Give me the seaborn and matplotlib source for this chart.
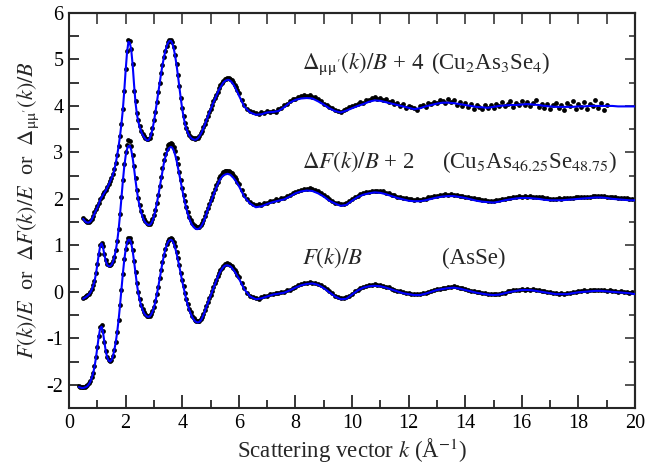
import numpy as np
import pandas as pd
import seaborn as sns
import matplotlib
matplotlib.use("Agg")
import matplotlib.pyplot as plt
from matplotlib.ticker import MultipleLocator

# ---------------------------------------------------------------------------
# Sampling of the scattering vector k (Å^-1)
# low-k part: 0.05 steps up to k = 6; high-k part: measured points every 0.1,
# fitted curves tabulated every 0.2
# ---------------------------------------------------------------------------
LO_STEP = 0.05
DOT_HI_START, DOT_HI_STEP = 6.1, 0.1
FIT_HI_START, FIT_HI_STEP = 6.2, 0.2

# ---------------- F(k)/B  (AsSe) ----------------
asse_k0 = 0.35
asse_fit_lo = [
    -2.05, -2.06, -2.07, -2.07, -2.06, -2.05, -2.03, -1.99, -1.94, -1.86, -1.76, -1.62, -1.43,
    -1.2, -0.97, -0.79, -0.75, -0.86, -1.08, -1.28, -1.41, -1.48, -1.5, -1.47, -1.39, -1.26, -1.09, -0.88, -0.62, -0.31, 0.03, 0.37, 0.67,
    0.9, 1.05, 1.12, 1.12, 1.04, 0.88, 0.65, 0.4, 0.16, -0.03, -0.18, -0.3, -0.39, -0.46, -0.5, -0.53, -0.54, -0.53, -0.49, -0.43,
    -0.34, -0.22, -0.07, 0.09, 0.27, 0.45, 0.62, 0.77, 0.9, 1.0, 1.07, 1.11, 1.12, 1.1, 1.04, 0.95, 0.83, 0.69, 0.54, 0.38,
    0.23, 0.09, -0.05, -0.18, -0.29, -0.39, -0.47, -0.54, -0.59, -0.63, -0.65, -0.66, -0.65, -0.62, -0.57, -0.5, -0.42, -0.33, -0.25, -0.17,
    -0.09, -0.01, 0.07, 0.15, 0.23, 0.31, 0.38, 0.44, 0.49, 0.53, 0.56, 0.57, 0.57, 0.56, 0.55, 0.52, 0.48, 0.44, 0.39, 0.34,
    0.29,
]
asse_fit_hi = [
    0.05, -0.1, -0.16, -0.14, -0.1,
    -0.06, -0.04, -0.02, 0.03, 0.09,
    0.14, 0.17, 0.18, 0.15, 0.08,
    -0.01, -0.1, -0.16, -0.15, -0.06,
    0.03, 0.09, 0.12, 0.13, 0.12,
    0.09, 0.05, 0.01, -0.03, -0.05,
    -0.07, -0.07, -0.04, 0.0, 0.04,
    0.06, 0.08, 0.09, 0.07, 0.04,
    0.01, -0.02, -0.04, -0.06, -0.07,
    -0.06, -0.03, 0.0, 0.02, 0.04,
    0.04, 0.03, 0.01, -0.01, -0.03,
    -0.05, -0.05, -0.05, -0.03, -0.01,
    0.0, 0.01, 0.02, 0.02, 0.01,
    0.0, -0.01, -0.02, -0.03, -0.05,
]
asse_exp_lo = [
    -2.03, -2.04, -2.05, -2.05, -2.04, -2.03, -2.01, -1.97, -1.92, -1.84, -1.74, -1.6, -1.41,
    -1.18, -0.95, -0.76, -0.71, -0.84, -1.07, -1.27, -1.4, -1.47, -1.49, -1.46, -1.38, -1.25, -1.08, -0.87, -0.61, -0.29, 0.05, 0.39, 0.7,
    0.93, 1.08, 1.15, 1.15, 1.07, 0.9, 0.67, 0.42, 0.18, -0.01, -0.16, -0.28, -0.37, -0.44, -0.48, -0.51, -0.52, -0.51, -0.47, -0.41,
    -0.32, -0.2, -0.05, 0.11, 0.29, 0.47, 0.64, 0.79, 0.92, 1.02, 1.09, 1.13, 1.15, 1.13, 1.07, 0.98, 0.86, 0.72, 0.57, 0.41,
    0.26, 0.12, -0.02, -0.15, -0.26, -0.36, -0.44, -0.51, -0.56, -0.6, -0.62, -0.63, -0.62, -0.59, -0.54, -0.47, -0.39, -0.3, -0.21, -0.14,
    -0.06, 0.02, 0.1, 0.18, 0.26, 0.34, 0.41, 0.47, 0.52, 0.56, 0.59, 0.6, 0.61, 0.6, 0.58, 0.55, 0.51, 0.47, 0.42, 0.37,
    0.32,
]
asse_exp_hi = [
    0.2, 0.08, -0.02, -0.08, -0.12, -0.13, -0.15, -0.12, -0.1, -0.08,
    -0.05, -0.05, -0.02, -0.03, 0.0, -0.01, 0.03, 0.05, 0.09, 0.11,
    0.14, 0.16, 0.19, 0.19, 0.21, 0.2, 0.2, 0.17, 0.14, 0.11,
    0.06, 0.02, -0.03, -0.08, -0.11, -0.14, -0.14, -0.12, -0.09, -0.04,
    0.01, 0.04, 0.08, 0.11, 0.12, 0.15, 0.14, 0.16, 0.15, 0.14,
    0.13, 0.1, 0.1, 0.06, 0.05, 0.02, 0.02, -0.01, -0.02, -0.02,
    -0.05, -0.04, -0.05, -0.05, -0.03, -0.03, 0.0, 0.02, 0.03, 0.06,
    0.06, 0.08, 0.09, 0.1, 0.11, 0.12, 0.1, 0.09, 0.08, 0.06,
    0.05, 0.02, 0.02, 0.0, -0.01, -0.03, -0.02, -0.05, -0.04, -0.05,
    -0.04, -0.05, -0.02, -0.02, 0.01, 0.01, 0.04, 0.04, 0.05, 0.06,
    0.05, 0.07, 0.05, 0.06, 0.03, 0.04, 0.01, 0.02, -0.01, 0.0,
    -0.03, -0.02, -0.04, -0.03, -0.04, -0.02, -0.03, 0.0, -0.01, 0.02,
    0.01, 0.03, 0.02, 0.04, 0.03, 0.05, 0.03, 0.04, 0.04, 0.02,
    0.03, 0.01, 0.02, 0.0, 0.01, -0.01, 0.0, -0.02, -0.01, -0.03,
]

# ---------------- ΔF(k)/B + 2  (Cu5As46.25Se48.75) ----------------
cu5_k0 = 0.5
cu5_fit_lo = [
    -0.15, -0.13, -0.11, -0.09, -0.06, -0.02, 0.04, 0.12, 0.22, 0.38,
    0.58, 0.8, 0.98, 1.04, 0.96, 0.8, 0.66, 0.58, 0.55, 0.55, 0.58, 0.64, 0.74, 0.88, 1.07, 1.32, 1.64, 2.0, 2.36, 2.68,
    2.92, 3.07, 3.14, 3.14, 3.05, 2.88, 2.65, 2.4, 2.17, 1.98, 1.83, 1.71, 1.61, 1.54, 1.49, 1.46, 1.44, 1.44, 1.47, 1.53,
    1.62, 1.74, 1.89, 2.05, 2.23, 2.42, 2.6, 2.76, 2.89, 2.99, 3.06, 3.1, 3.12, 3.1, 3.04, 2.95, 2.83, 2.68, 2.52, 2.36,
    2.2, 2.05, 1.91, 1.78, 1.67, 1.58, 1.5, 1.44, 1.4, 1.37, 1.35, 1.35, 1.36, 1.39, 1.44, 1.5, 1.58, 1.67, 1.76, 1.84,
    1.92, 2.0, 2.08, 2.16, 2.24, 2.31, 2.38, 2.43, 2.47, 2.5, 2.52, 2.53, 2.54, 2.53, 2.52, 2.49, 2.46, 2.42, 2.38, 2.33,
    2.28,
]
cu5_fit_hi = [
    2.04, 1.9, 1.82, 1.84, 1.89,
    1.93, 1.96, 1.99, 2.05, 2.12,
    2.16, 2.18, 2.17, 2.12, 2.05,
    1.96, 1.9, 1.85, 1.87, 1.96,
    2.04, 2.09, 2.12, 2.14, 2.13,
    2.1, 2.06, 2.02, 1.99, 1.96,
    1.95, 1.95, 1.97, 2.0, 2.03,
    2.05, 2.06, 2.06, 2.04, 2.02,
    1.99, 1.96, 1.94, 1.93, 1.92,
    1.94, 1.97, 1.99, 2.01, 2.02,
    2.02, 2.01, 2.0, 1.98, 1.97,
    1.97, 1.97, 1.98, 1.99, 2.0,
    2.01, 2.02, 2.03, 2.03, 2.02,
    2.0, 1.99, 1.98, 1.97, 1.97,
]
cu5_exp_lo = [
    -0.13, -0.12, -0.09, -0.07, -0.04, 0.0, 0.06, 0.14, 0.24, 0.4,
    0.6, 0.82, 1.0, 1.06, 0.98, 0.82, 0.68, 0.6, 0.57, 0.57, 0.6, 0.66, 0.76, 0.9, 1.1, 1.35, 1.67, 2.04, 2.41, 2.74,
    3.0, 3.17, 3.26, 3.25, 3.14, 2.95, 2.7, 2.44, 2.2, 2.01, 1.86, 1.74, 1.64, 1.57, 1.52, 1.49, 1.47, 1.47, 1.5, 1.56,
    1.65, 1.77, 1.92, 2.09, 2.28, 2.47, 2.66, 2.83, 2.97, 3.08, 3.15, 3.19, 3.21, 3.19, 3.12, 3.02, 2.89, 2.74, 2.57, 2.4,
    2.24, 2.09, 1.95, 1.82, 1.71, 1.62, 1.54, 1.48, 1.44, 1.41, 1.39, 1.39, 1.4, 1.43, 1.48, 1.55, 1.63, 1.72, 1.81, 1.89,
    1.97, 2.05, 2.13, 2.21, 2.29, 2.37, 2.44, 2.5, 2.54, 2.57, 2.59, 2.6, 2.61, 2.6, 2.58, 2.55, 2.51, 2.47, 2.42, 2.37,
    2.31,
]
cu5_exp_hi = [
    2.19, 2.08, 1.99, 1.93, 1.89, 1.86, 1.88, 1.87, 1.91, 1.92,
    1.95, 1.96, 1.99, 1.98, 2.02, 2.02, 2.06, 2.08, 2.13, 2.15,
    2.18, 2.19, 2.21, 2.21, 2.23, 2.21, 2.19, 2.16, 2.13, 2.08,
    2.04, 1.99, 1.96, 1.92, 1.91, 1.88, 1.89, 1.91, 1.96, 1.99,
    2.04, 2.07, 2.11, 2.12, 2.15, 2.15, 2.18, 2.17, 2.18, 2.16,
    2.16, 2.13, 2.12, 2.09, 2.08, 2.05, 2.05, 2.02, 2.01, 1.99,
    2.0, 1.98, 1.99, 1.98, 2.0, 2.0, 2.03, 2.03, 2.06, 2.06,
    2.08, 2.08, 2.1, 2.09, 2.11, 2.09, 2.09, 2.07, 2.07, 2.05,
    2.04, 2.02, 2.01, 1.99, 1.99, 1.97, 1.98, 1.96, 1.96, 1.95,
    1.97, 1.97, 1.99, 2.0, 2.02, 2.02, 2.04, 2.04, 2.06, 2.05,
    2.07, 2.05, 2.06, 2.04, 2.05, 2.03, 2.03, 2.01, 2.01, 2.0,
    2.0, 1.99, 2.01, 1.99, 2.01, 2.01, 2.02, 2.02, 2.03, 2.03,
    2.04, 2.04, 2.05, 2.05, 2.06, 2.06, 2.07, 2.06, 2.06, 2.05,
    2.05, 2.03, 2.03, 2.02, 2.02, 2.01, 2.01, 2.0, 2.0, 1.99,
]

# ---------------- Δμμ'(k)/B + 4  (Cu2As3Se4) ----------------
cu2_k0 = 0.5
cu2_fit_lo = [
    1.57, 1.53, 1.5, 1.49, 1.49, 1.51, 1.55, 1.61, 1.68, 1.75,
    1.81, 1.89, 1.97, 2.03, 2.08, 2.13, 2.18, 2.24, 2.3, 2.37, 2.44, 2.52, 2.62, 2.76, 2.93, 3.12, 3.34, 3.6, 3.9, 4.3,
    4.75, 5.15, 5.38, 5.36, 5.2, 4.88, 4.45, 4.07, 3.82, 3.66, 3.54, 3.45, 3.38, 3.33, 3.29, 3.26, 3.26, 3.3, 3.38, 3.5,
    3.66, 3.85, 4.06, 4.27, 4.48, 4.68, 4.87, 5.03, 5.17, 5.28, 5.36, 5.4, 5.4, 5.35, 5.24, 5.08, 4.88, 4.65, 4.4, 4.16,
    3.94, 3.76, 3.61, 3.5, 3.42, 3.36, 3.32, 3.29, 3.28, 3.27, 3.28, 3.3, 3.34, 3.39, 3.45, 3.52, 3.6, 3.68, 3.76, 3.84,
    3.92, 3.99, 4.07, 4.14, 4.21, 4.28, 4.35, 4.4, 4.45, 4.5, 4.53, 4.55, 4.56, 4.56, 4.54, 4.51, 4.47, 4.42, 4.36, 4.3,
    4.23,
]
cu2_fit_hi = [
    3.98, 3.86, 3.81, 3.82, 3.86,
    3.87, 3.89, 3.97, 4.07, 4.13,
    4.16, 4.17, 4.16, 4.1, 4.03,
    3.95, 3.89, 3.86, 3.9, 3.95,
    4.0, 4.04, 4.09, 4.12, 4.11,
    4.08, 4.05, 4.02, 3.99, 3.96,
    3.93, 3.95, 3.99, 4.02, 4.05,
    4.07, 4.07, 4.06, 4.04, 4.02,
    4.0, 3.98, 3.97, 3.96, 3.98,
    4.0, 4.01, 4.02, 4.02, 4.03,
    4.04, 4.03, 4.02, 4.0, 3.99,
    3.98, 3.98, 3.98, 3.98, 3.99,
    3.99, 4.0, 4.0, 4.0, 4.0,
    4.0, 3.99, 3.99, 3.99, 3.99,
]
cu2_exp_lo = [
    1.58, 1.55, 1.52, 1.51, 1.51, 1.53, 1.57, 1.63, 1.71, 1.78,
    1.84, 1.92, 1.99, 2.05, 2.1, 2.15, 2.2, 2.26, 2.32, 2.39, 2.46, 2.54, 2.64, 2.78, 2.95, 3.14, 3.36, 3.62, 3.93, 4.33,
    4.79, 5.19, 5.42, 5.39, 5.23, 4.91, 4.33, 4.1, 3.85, 3.69, 3.57, 3.47, 3.4, 3.35, 3.31, 3.28, 3.28, 3.31, 3.4, 3.52,
    3.69, 3.88, 4.08, 4.29, 4.5, 4.7, 4.89, 5.05, 5.19, 5.3, 5.38, 5.42, 5.42, 5.37, 5.26, 5.1, 4.9, 4.67, 4.42, 4.18,
    3.96, 3.78, 3.63, 3.52, 3.44, 3.38, 3.34, 3.31, 3.3, 3.29, 3.3, 3.32, 3.36, 3.41, 3.47, 3.54, 3.62, 3.7, 3.78, 3.86,
    3.94, 4.02, 4.1, 4.17, 4.24, 4.31, 4.38, 4.44, 4.49, 4.54, 4.57, 4.59, 4.6, 4.6, 4.58, 4.55, 4.51, 4.46, 4.4, 4.34,
    4.27,
]
cu2_exp_hi = [
    4.13, 4.02, 3.93, 3.9, 3.86, 3.85, 3.83, 3.86, 3.85, 3.89,
    3.87, 3.9, 3.86, 3.93, 3.95, 4.01, 4.05, 4.1, 4.14, 4.16,
    4.19, 4.21, 4.23, 4.22, 4.24, 4.2, 4.19, 4.14, 4.11, 4.05,
    4.03, 3.97, 3.96, 3.91, 3.9, 3.88, 3.91, 3.93, 3.97, 3.99,
    4.03, 4.05, 4.08, 4.06, 4.13, 4.12, 4.17, 4.2, 4.15, 4.18,
    4.13, 4.16, 4.08, 4.1, 4.04, 4.07, 3.99, 4.04, 3.95, 4.0,
    3.97, 3.96, 3.92, 3.99, 4.02, 3.98, 4.06, 4.04, 4.09, 4.07,
    4.13, 4.1, 4.06, 4.14, 4.08, 4.12, 4.03, 4.09, 3.99, 4.06,
    3.97, 4.05, 3.94, 4.02, 3.97, 3.93, 4.01, 3.95, 4.02, 3.96,
    4.04, 3.99, 4.08, 4.0, 4.05, 4.1, 3.98, 4.07, 4.02, 4.11,
    4.03, 4.08, 3.99, 4.06, 4.12, 3.97, 4.05, 3.96, 4.04, 3.93,
    4.02, 4.07, 3.95, 4.03, 3.92, 4.06, 3.99, 4.1, 3.94, 4.04,
    3.97, 4.09, 3.93, 4.05, 3.99, 4.12, 3.95, 4.06, 3.92, 4.02,
]

# text labels
curve_labels = [r"$\Delta_{\mathrm{\mu\mu}'}(k)/B$ + 4", r"$\Delta F(k)/B$ + 2", r"$F(k)/B$"]
formula_labels = [r"(Cu$_2$As$_3$Se$_4$)", r"(Cu$_5$As$_{46.25}$Se$_{48.75}$)", "(AsSe)"]
x_ticks = [0, 2, 4, 6, 8, 10, 12, 14, 16, 18, 20]
y_ticks = [-2, -1, 0, 1, 2, 3, 4, 5, 6]


def tabulate(name, k0, lo, hi_start, hi_step, hi):
    k = np.concatenate([k0 + LO_STEP * np.arange(len(lo)),
                        hi_start + hi_step * np.arange(len(hi))])
    return pd.DataFrame({"curve": name, "k": np.round(k, 3),
                         "value": np.concatenate([lo, hi])})


exp_df = pd.concat([
    tabulate("AsSe", asse_k0, asse_exp_lo, DOT_HI_START, DOT_HI_STEP, asse_exp_hi),
    tabulate("Cu5", cu5_k0, cu5_exp_lo, DOT_HI_START, DOT_HI_STEP, cu5_exp_hi),
    tabulate("Cu2", cu2_k0, cu2_exp_lo, DOT_HI_START, DOT_HI_STEP, cu2_exp_hi),
], ignore_index=True)
fit_df = pd.concat([
    tabulate("AsSe", asse_k0, asse_fit_lo, FIT_HI_START, FIT_HI_STEP, asse_fit_hi),
    tabulate("Cu5", cu5_k0, cu5_fit_lo, FIT_HI_START, FIT_HI_STEP, cu5_fit_hi),
    tabulate("Cu2", cu2_k0, cu2_fit_lo, FIT_HI_START, FIT_HI_STEP, cu2_fit_hi),
], ignore_index=True)

sns.set_style("ticks")
plt.rcParams["font.family"] = ["Liberation Serif", "DejaVu Serif"]
plt.rcParams["mathtext.fontset"] = "stix"
plt.rcParams["axes.linewidth"] = 1.5

fig = plt.figure(figsize=(6.48, 4.68), dpi=100)
ax = fig.add_axes([69 / 648, 1 - 408 / 468, 566 / 648, 395 / 468])

sns.scatterplot(data=exp_df, x="k", y="value", color="black", s=12,
                linewidth=0, legend=False, ax=ax, zorder=2)
sns.lineplot(data=fit_df, x="k", y="value", units="curve", estimator=None,
             sort=False, color="#0000ff", lw=1.5, legend=False, ax=ax, zorder=3)

ax.set_xlim(0, 20)
ax.set_ylim(-2.5, 6)
ax.set_xticks(x_ticks)
ax.set_yticks(y_ticks)
ax.set_xticklabels([str(t) for t in x_ticks])
ax.set_yticklabels([str(t) for t in y_ticks])
ax.xaxis.set_minor_locator(MultipleLocator(1))
ax.yaxis.set_minor_locator(MultipleLocator(0.5))

ax.tick_params(axis="both", which="both", direction="in", top=False, right=False,
               width=1.1, colors="black", labelsize=14.5, pad=4)
ax.tick_params(axis="x", which="major", length=9.5)
ax.tick_params(axis="x", which="minor", length=5.8)
ax.tick_params(axis="y", which="both", length=7.2)

top = ax.secondary_xaxis("top")
top.xaxis.set_major_locator(MultipleLocator(2))
top.xaxis.set_minor_locator(MultipleLocator(1))
top.tick_params(which="both", direction="in", length=8, width=1.1, labeltop=False)
top.spines["top"].set_linewidth(1.5)

right = ax.secondary_yaxis("right")
right.yaxis.set_major_locator(MultipleLocator(1))
right.yaxis.set_minor_locator(MultipleLocator(0.5))
right.tick_params(which="major", direction="in", length=7.2, width=1.1, labelright=False)
right.tick_params(which="minor", direction="in", length=4.3, width=1.1, labelright=False)
right.spines["right"].set_linewidth(1.5)

ax.set_xlabel(r"Scattering vector $k$ (Å$^{-1}$)", fontsize=16.5, labelpad=3)
ax.set_ylabel(r"$F(k)/E$  or  $\Delta F(k)/E$  or  $\Delta_{\mathrm{\mu\mu}'}(k)/B$",
              fontsize=16)
ax.yaxis.set_label_coords(-0.05, 0.5)

label_y = [4.79, 2.67, 0.6]
formula_x = [12.8, 13.17, 13.17]
for name, formula, yb, fx in zip(curve_labels, formula_labels, label_y, formula_x):
    ax.text(8.22, yb, name, fontsize=16.5, va="baseline", ha="left")
    ax.text(fx, yb, formula, fontsize=16.5, va="baseline", ha="left")

fig.savefig("out.png", dpi=100)
